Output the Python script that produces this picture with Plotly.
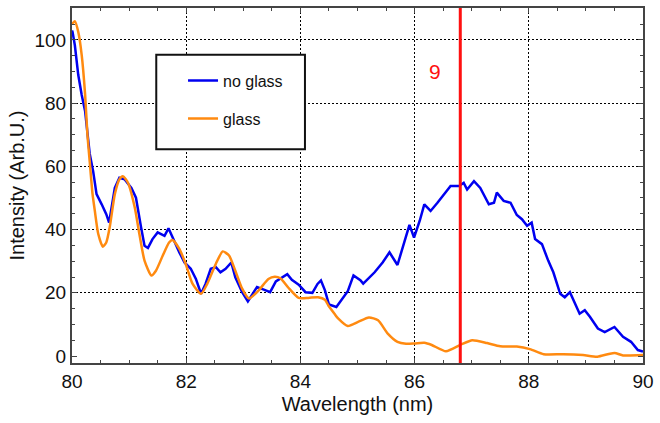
import plotly.graph_objects as go

# Emission spectra, wavelength in nm, intensity in arbitrary units
wl_no_glass = [80.00, 80.01, 80.05, 80.11, 80.17, 80.23, 80.28, 80.31, 80.37, 80.43,
               80.52, 80.60, 80.65, 80.75, 80.83, 80.92, 81.04, 81.12, 81.21, 81.27,
               81.33, 81.41, 81.50, 81.62, 81.69, 81.76, 81.88, 81.97, 82.08, 82.17,
               82.26, 82.34, 82.43, 82.52, 82.60, 82.69, 82.79, 82.86, 82.98, 83.08,
               83.24, 83.36, 83.47, 83.57, 83.77, 83.85, 83.97, 84.09, 84.21, 84.30,
               84.36, 84.43, 84.50, 84.63, 84.75, 84.83, 84.93, 85.05, 85.10, 85.30,
               85.44, 85.56, 85.70, 85.82, 85.91, 85.99, 86.09, 86.17, 86.28, 86.40,
               86.52, 86.63, 86.78, 86.86, 86.92, 87.04, 87.15, 87.30, 87.39, 87.44,
               87.56, 87.68, 87.79, 87.88, 87.97, 88.05, 88.11, 88.23, 88.34, 88.43,
               88.55, 88.63, 88.72, 88.78, 88.89, 88.98, 89.07, 89.21, 89.33, 89.50,
               89.65, 89.79, 89.91, 90.00]
int_no_glass = [103.0, 102.5, 98.3, 88.9, 82.6, 77.4, 69.0, 64.0, 58.5, 51.2,
                48.0, 44.9, 42.2, 53.2, 56.4, 55.9, 53.2, 50.1, 40.7, 34.9,
                34.2, 37.0, 39.1, 38.0, 40.4, 37.5, 32.8, 29.6, 27.6, 24.4,
                19.7, 22.9, 27.6, 28.1, 26.5, 27.6, 29.6, 24.9, 20.2, 17.3,
                21.8, 21.0, 20.2, 23.6, 25.9, 24.1, 22.6, 20.2, 20.0, 22.8,
                23.9, 20.8, 16.3, 15.5, 18.6, 20.5, 25.5, 24.0, 22.9, 26.5,
                29.6, 32.8, 28.8, 36.2, 41.5, 37.5, 42.8, 48.0, 45.9, 48.5,
                51.2, 53.8, 53.8, 54.8, 52.7, 55.3, 53.2, 48.0, 48.5, 51.7,
                49.1, 48.5, 44.6, 43.3, 41.2, 42.2, 37.0, 35.4, 30.2, 26.5,
                19.7, 18.6, 20.2, 17.6, 13.4, 14.5, 12.4, 8.7, 7.6, 9.2,
                6.1, 4.5, 1.9, 1.4]

wl_glass = [80.00, 80.05, 80.11, 80.17, 80.23, 80.27, 80.31, 80.36, 80.40, 80.46,
            80.54, 80.60, 80.66, 80.75, 80.83, 80.89, 80.98, 81.10, 81.18, 81.27,
            81.39, 81.47, 81.59, 81.70, 81.76, 81.88, 81.99, 82.11, 82.26, 82.37,
            82.52, 82.64, 82.75, 82.86, 82.98, 83.10, 83.27, 83.44, 83.55, 83.65,
            83.79, 83.97, 84.14, 84.31, 84.43, 84.49, 84.60, 84.66, 84.83, 85.01,
            85.20, 85.36, 85.53, 85.70, 85.85, 86.00, 86.17, 86.30, 86.55, 86.81,
            87.01, 87.27, 87.50, 87.79, 88.02, 88.26, 88.60, 88.95, 89.20, 89.50,
            89.65, 90.00]
int_glass = [105.0, 105.9, 102.5, 95.2, 82.6, 70.0, 61.6, 51.2, 45.9, 38.6,
             34.6, 35.9, 40.7, 51.2, 55.9, 56.9, 54.8, 46.9, 38.6, 30.2,
             25.5, 27.0, 31.8, 35.9, 36.7, 33.9, 29.2, 22.9, 19.7, 22.9,
             29.2, 33.1, 31.8, 27.0, 21.3, 18.2, 20.8, 24.4, 25.1, 24.6,
             21.6, 18.4, 18.4, 18.6, 17.8, 16.0, 13.3, 11.9, 9.5, 10.8,
             12.2, 11.3, 7.1, 4.5, 3.9, 4.0, 4.2, 3.5, 1.5, 3.6,
             5.0, 4.1, 3.1, 3.0, 2.2, 0.6, 0.6, 0.3, -0.2, 1.0,
             0.2, 0.3]

series_names = ["no glass", "glass"]
marker_wl = 86.8
marker_label = "9"
marker_label_pos = [86.35, 90]

x_range = [80, 90]
y_range = [-2.2, 110.1]
y_ticks = [0, 20, 40, 60, 80, 100]
y_grid = [20, 40, 60, 80, 100]

FONT = "Arial, Liberation Sans, sans-serif"
W, H = 660, 423
ML, MR, MT, MB = 72, 12, 6, 60

fig = go.Figure()
fig.add_trace(go.Scatter(x=wl_no_glass, y=int_no_glass, mode="lines",
                         name=series_names[0], legendgroup="a",
                         line=dict(color="#0000f0", width=2.5)))
# second curve sits on the overlaid axis that carries the horizontal grid
fig.add_trace(go.Scatter(x=wl_glass, y=int_glass, mode="lines", yaxis="y2",
                         name=series_names[1], legendgroup="b",
                         line=dict(color="#ff8a10", width=2.5, shape="spline",
                                   smoothing=0.6)))

fig.add_vline(x=marker_wl, line=dict(color="#ff1010", width=3))
fig.add_annotation(x=marker_label_pos[0], y=marker_label_pos[1], text=marker_label,
                   showarrow=False, font=dict(family=FONT, size=21, color="#ff1010"))

# legend frame (paper coordinates of the plot area)
pw, ph = W - ML - MR, H - MT - MB
def px_x(p):
    return (p - ML) / pw
def px_y(p):
    return (H - MB - p) / ph

fig.add_shape(type="rect", xref="paper", yref="paper",
              x0=px_x(157), x1=px_x(307), y0=px_y(148), y1=px_y(53),
              line=dict(color="#111111", width=2), fillcolor="white", layer="above")

axis_common = dict(
    showline=True, linecolor="#444444", linewidth=2, mirror="ticks",
    ticks="inside", ticklen=5, tickcolor="#444444", tickwidth=1,
    zeroline=False,
    tickfont=dict(family=FONT, size=19, color="#111111"),
)
grid_style = dict(gridcolor="#000000", gridwidth=1, griddash="2px,2px")

fig.update_xaxes(range=x_range, dtick=2, tick0=80, showgrid=True, **grid_style,
                 minor=dict(dtick=0.5, ticks="inside", ticklen=3,
                            tickcolor="#444444", showgrid=False),
                 title=dict(text="Wavelength (nm)",
                            font=dict(family=FONT, size=20, color="#111111"),
                            standoff=6),
                 **axis_common)
fig.update_layout(
    yaxis=dict(range=y_range, tickvals=y_ticks, showgrid=False,
               minor=dict(dtick=5, ticks="inside", ticklen=3,
                          tickcolor="#444444", showgrid=False),
               title=dict(text="Intensity (Arb.U.)",
                          font=dict(family=FONT, size=20, color="#111111"),
                          standoff=4),
               **axis_common),
    # horizontal grid only above the baseline
    yaxis2=dict(overlaying="y", range=y_range, tickvals=y_grid, showgrid=True,
                showticklabels=False, ticks="", showline=False, zeroline=False,
                **grid_style),
)

fig.update_layout(
    width=W, height=H,
    margin=dict(l=ML, r=MR, t=MT, b=MB),
    paper_bgcolor="white", plot_bgcolor="white",
    showlegend=True,
    legend=dict(x=px_x(184), y=px_y(62), xanchor="left", yanchor="top",
                bgcolor="rgba(0,0,0,0)", borderwidth=0,
                font=dict(family=FONT, size=16, color="#111111"),
                tracegroupgap=14, itemwidth=30),
)

fig.write_html("out.html")
